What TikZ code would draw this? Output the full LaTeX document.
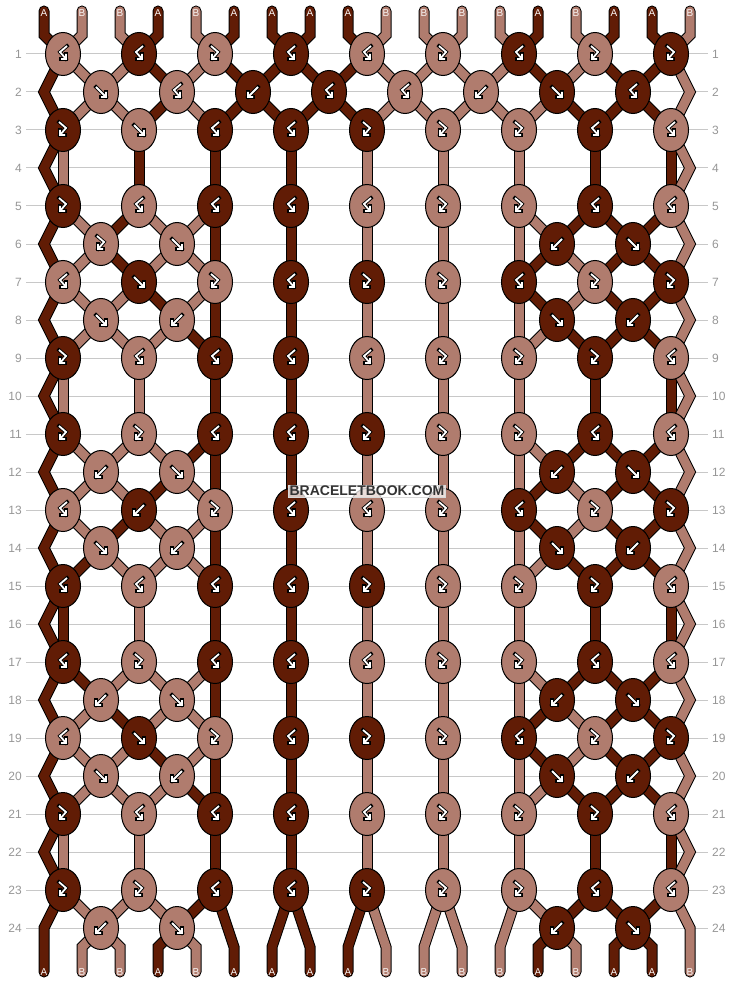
\documentclass[tikz,border=0pt]{standalone}
\usepackage{fontspec}
\setmainfont{Liberation Sans}
\usetikzlibrary{shapes.geometric}

\definecolor{strA}{RGB}{97,28,5}
\definecolor{strB}{RGB}{176,124,110}
\definecolor{rowgray}{RGB}{200,200,200}
\definecolor{numgray}{RGB}{150,150,150}

\pgfdeclarelayer{grid}
\pgfdeclarelayer{back}
\pgfsetlayers{grid,back,main}

\tikzset{
  rowline/.style={rowgray, line width=1pt},
  rownum/.style={text=numgray, font=\fontsize{12}{14}\selectfont, inner sep=0pt},
  strand/.style={draw=black, line width=1pt, double=str#1, double distance=9pt},
  knot/.style={ellipse, draw=black, line width=1pt, fill=str#1, minimum width=35pt, minimum height=43pt, inner sep=0pt},
  icon/.style={draw=white, line width=1.8pt, preaction={draw=black, line width=3.6pt, line cap=rect}},
  kf/.style={path picture={\draw[icon, shift={(path picture bounding box.center)}] (-5,-5) -- (5,5) (0,5) -- (5,5) -- (5,0);}},
  kb/.style={path picture={\draw[icon, shift={(path picture bounding box.center)}] (5,-5) -- (-5,5) (0,5) -- (-5,5) -- (-5,0);}},
  kfb/.style={path picture={\draw[icon, shift={(path picture bounding box.center)}] (-4,-8) -- (3,-2) -- (-3,5) (-3,0) -- (-3,5) -- (2,5);}},
  kbf/.style={path picture={\draw[icon, shift={(path picture bounding box.center)}] (4,-8) -- (-3,-2) -- (3,5) (3,0) -- (3,5) -- (-2,5);}},
  tag/.style={text=white!92!strB, font=\fontsize{10}{12}\selectfont, inner sep=0pt},
  stamp/.style={font=\bfseries\fontsize{14}{16}\selectfont, text=black!80, fill=white, fill opacity=0.75, text opacity=1, draw=black!15, inner sep=1.2pt}
}

% a row of nine knots, and a row of knots between them
\newcommand\oddrow[2]{\foreach \col/\typ [count=\kk] in {#2}{\node[knot=\col, k\typ] (k#1-\kk) at ({76*\kk-13},{16+38*#1}) {};}}
\newcommand\evenrow[2]{\foreach \jj/\col/\typ in {#2}{\node[knot=\col, k\typ] (k#1-\jj) at ({76*\jj+25},{16+38*#1}) {};}}

% strings from odd row #1 through the row below (#2: 0 none, 1 sides, 2 full)
\newcommand\weave[3]{%
  \pgfmathtruncatemacro\evrow{#1+1}%
  \pgfmathtruncatemacro\nxrow{#1+2}%
  \foreach \cu/\cd [count=\p] in {#3}{%
    \pgfmathtruncatemacro\jj{\p/2}%
    \pgfmathtruncatemacro\oo{(\p+1)/2}%
    \pgfmathtruncatemacro\has{(#2==2)||((#2==1)&&((\jj<3)||(\jj>6)))}%
    \ifnum\p=1 \draw[strand=\cu] (k#1-1.center) -- (L\evrow) -- (k\nxrow-1.center);
    \else\ifnum\p=18 \draw[strand=\cu] (k#1-9.center) -- (R\evrow) -- (k\nxrow-9.center);
    \else\ifnum\has=1
      \draw[strand=\cu] (k#1-\oo.center) -- (k\evrow-\jj.center);
      \draw[strand=\cd] (k\evrow-\jj.center) -- (k\nxrow-\oo.center);
    \else
      \draw[strand=\cu] (k#1-\oo.center) -- (k\nxrow-\oo.center);
    \fi\fi\fi
  }%
}

% strings from row 23 through row 24 to the ends
\newcommand\tails[1]{%
  \foreach \cu/\cd [count=\p] in {#1}{%
    \pgfmathtruncatemacro\jj{\p/2}%
    \pgfmathtruncatemacro\oo{(\p+1)/2}%
    \pgfmathtruncatemacro\has{(\jj<3)||(\jj>6)}%
    \ifnum\p=1 \draw[strand=\cu, line cap=round] (k23-1.center) -- (L24) -- (w1);
    \else\ifnum\p=18 \draw[strand=\cu, line cap=round] (k23-9.center) -- (R24) -- (w18);
    \else\ifnum\has=1
      \draw[strand=\cu] (k23-\oo.center) -- (k24-\jj.center);
      \draw[strand=\cd, line cap=round] (k24-\jj.center) -- (v\p) -- (w\p);
    \else
      \draw[strand=\cu, line cap=round] (k23-\oo.center) -- (v\p) -- (w\p);
    \fi\fi\fi
  }%
}

\begin{document}
\begin{tikzpicture}[x=1pt, y=-1pt]
\useasboundingbox (0,0) rectangle (734,984);

\begin{pgfonlayer}{grid}
\foreach \rw in {1,...,24} \draw[rowline] (26,{16+38*\rw}) -- (708,{16+38*\rw});
\end{pgfonlayer}
\foreach \rw in {1,...,24}{
  \node[rownum, anchor=east] (nl\rw) at (22,{16+38*\rw}) {\rw};
  \node[rownum, anchor=west] (nr\rw) at (712,{16+38*\rw}) {\rw};
}

% knots
\oddrow{1}{B/bf,A/bf,B/fb,A/bf,B/bf,B/fb,A/bf,B/fb,A/fb}
\evenrow{2}{1/B/f,2/B/bf,3/A/b,4/A/bf,5/B/bf,6/B/b,7/A/f,8/A/bf}
\oddrow{3}{A/fb,B/f,A/bf,A/bf,A/fb,B/fb,B/fb,A/bf,B/bf}
\oddrow{5}{A/fb,B/bf,A/bf,A/bf,B/bf,B/fb,B/fb,A/bf,B/bf}
\evenrow{6}{1/B/fb,2/B/f,7/A/b,8/A/f}
\oddrow{7}{B/bf,A/f,B/fb,A/bf,A/fb,B/fb,A/bf,B/fb,A/fb}
\evenrow{8}{1/B/f,2/B/b,7/A/f,8/A/b}
\oddrow{9}{A/fb,B/bf,A/bf,A/bf,B/bf,B/fb,B/fb,A/fb,B/bf}
\oddrow{11}{A/fb,B/fb,A/bf,A/bf,A/fb,B/fb,B/fb,A/bf,B/bf}
\evenrow{12}{1/B/b,2/B/f,7/A/b,8/A/f}
\oddrow{13}{B/bf,A/b,B/fb,A/bf,B/bf,B/fb,A/bf,B/fb,A/fb}
\evenrow{14}{1/B/f,2/B/b,7/A/f,8/A/b}
\oddrow{15}{A/bf,B/bf,A/bf,A/bf,A/fb,B/fb,B/fb,A/fb,B/bf}
\oddrow{17}{A/bf,B/fb,A/bf,A/bf,B/bf,B/fb,B/fb,A/bf,B/bf}
\evenrow{18}{1/B/b,2/B/f,7/A/b,8/A/f}
\oddrow{19}{B/bf,A/f,B/fb,A/bf,A/fb,B/fb,A/bf,B/fb,A/fb}
\evenrow{20}{1/B/f,2/B/b,7/A/f,8/A/b}
\oddrow{21}{A/fb,B/bf,A/bf,A/bf,B/bf,B/fb,B/fb,A/fb,B/bf}
\oddrow{23}{A/fb,B/fb,A/bf,A/bf,A/fb,B/fb,B/fb,A/bf,B/bf}
\evenrow{24}{1/B/b,2/B/f,7/A/b,8/A/f}

% edge turns and string ends
\foreach \ev in {2,4,...,24}{
  \coordinate (L\ev) at (44,{16+38*\ev});
  \coordinate (R\ev) at (690,{16+38*\ev});
}
\foreach \p in {1,...,18}{
  \coordinate (t\p) at ({38*\p+6},11);
  \coordinate (u\p) at ({38*\p+6},35);
  \coordinate (v\p) at ({38*\p+6},947);
  \coordinate (w\p) at ({38*\p+6},972);
}

% strings
\begin{pgfonlayer}{back}
\foreach \cu [count=\p] in {A,B,B,A,B,A,A,A,A,B,B,B,B,A,B,A,A,B}{
  \pgfmathtruncatemacro\oo{(\p+1)/2}
  \draw[strand=\cu, line cap=round] (t\p) -- (u\p) -- (k1-\oo.center);
}
\weave{1}{2}{A/A,B/B,B/B,A/A,B/B,A/A,A/A,A/A,A/A,B/B,B/B,B/B,B/B,A/B,B/A,A/A,A/A,B/B}
\weave{3}{0}{A/A,B/B,A/A,A/A,B/B,A/A,A/A,A/A,A/A,B/B,B/B,B/B,B/B,B/B,A/A,A/A,A/A,B/B}
\weave{5}{1}{A/A,B/B,A/A,B/B,B/B,A/A,A/A,A/A,A/A,B/B,B/B,B/B,B/B,B/A,A/B,A/A,A/A,B/B}
\weave{7}{1}{A/A,B/B,B/B,A/B,B/A,A/A,A/A,A/A,A/A,B/B,B/B,B/B,B/B,A/B,B/A,A/A,A/A,B/B}
\weave{9}{0}{A/A,B/B,B/B,B/B,A/A,A/A,A/A,A/A,A/A,B/B,B/B,B/B,B/B,B/B,A/A,A/A,A/A,B/B}
\weave{11}{1}{A/A,B/B,B/B,B/A,A/B,A/A,A/A,A/A,A/A,B/B,B/B,B/B,B/B,B/A,A/B,A/A,A/A,B/B}
\weave{13}{1}{A/A,B/A,A/B,B/B,B/B,A/A,A/A,A/A,A/A,B/B,B/B,B/B,B/B,A/B,B/A,A/A,A/A,B/B}
\weave{15}{0}{A/A,A/A,B/B,B/B,B/B,A/A,A/A,A/A,A/A,B/B,B/B,B/B,B/B,B/B,A/A,A/A,A/A,B/B}
\weave{17}{1}{A/A,A/B,B/A,B/B,B/B,A/A,A/A,A/A,A/A,B/B,B/B,B/B,B/B,B/A,A/B,A/A,A/A,B/B}
\weave{19}{1}{A/A,B/B,B/B,A/B,B/A,A/A,A/A,A/A,A/A,B/B,B/B,B/B,B/B,A/B,B/A,A/A,A/A,B/B}
\weave{21}{0}{A/A,B/B,B/B,B/B,A/A,A/A,A/A,A/A,A/A,B/B,B/B,B/B,B/B,B/B,A/A,A/A,A/A,B/B}
\tails{A/A,B/B,B/B,B/A,A/B,A/A,A/A,A/A,A/A,B/B,B/B,B/B,B/B,B/A,A/B,A/A,A/A,B/B}
\end{pgfonlayer}

% letters on the string ends
\foreach \cu [count=\p] in {A,B,B,A,B,A,A,A,A,B,B,B,B,A,B,A,A,B}{
  \node[tag] (a\p) at ({38*\p+6},13) {\cu};
  \node[tag] (z\p) at ({38*\p+6},972) {\cu};
}

\node[stamp] (wm) at (367,491) {BRACELETBOOK.COM};
\end{tikzpicture}
\end{document}
